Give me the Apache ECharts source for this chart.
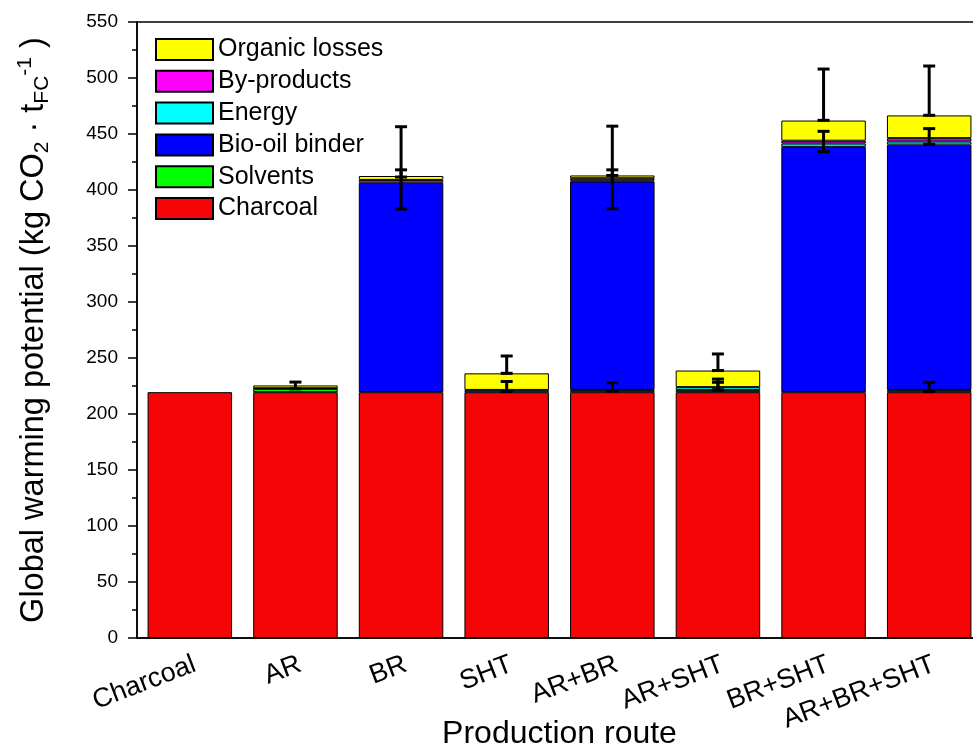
<!DOCTYPE html>
<html>
<head>
<meta charset="utf-8">
<script src="https://cdn.jsdelivr.net/npm/echarts@6/dist/echarts.min.js"></script>
<style>html,body{margin:0;padding:0;background:#fff;}#c{width:973px;height:747px;}</style>
</head>
<body>
<div id="c"></div>
<script>
var categories = ['Charcoal', 'AR', 'BR', 'SHT', 'AR+BR', 'AR+SHT', 'BR+SHT', 'AR+BR+SHT'];
var charcoal   = [219.5, 219.5, 219.5, 219.5, 219.5, 219.5, 219.5, 219.5];
var solvents   = [0, 3, 0, 0, 2, 2, 0, 2];
var bioOil     = [0, 0, 187, 0, 186, 0, 219, 219];
var energy     = [0, 0.5, 0, 2, 1, 2.5, 3, 2.8];
var byproducts = [0, 0, 2.5, 0, 2, 0, 2.5, 3];
var organic    = [0, 2.5, 3.5, 14.8, 2.5, 14.8, 18, 20.3];

// error bars: category, low, high
var errCategory = ['AR', 'BR', 'BR', 'SHT', 'SHT', 'AR+BR', 'AR+BR', 'AR+BR', 'AR+SHT', 'AR+SHT', 'AR+SHT', 'BR+SHT', 'BR+SHT', 'AR+BR+SHT', 'AR+BR+SHT', 'AR+BR+SHT'];
var errLow  = [222.5, 383, 411.6, 236.3, 220, 383.3, 413, 220.5, 238.8, 221.5, 221.5, 462.2, 434.2, 466.7, 440.8, 220];
var errHigh = [228.5, 456.5, 418, 251.8, 229, 457, 418, 228, 253.6, 231.2, 228.3, 508, 452.4, 510.7, 454.8, 228.3];

var yTicks = [0, 50, 100, 150, 200, 250, 300, 350, 400, 450, 500, 550];

var FONT = 'Liberation Sans, Arial, sans-serif';
function nz(a){ return a.map(function(v){ return v === 0 ? null : v; }); }

var layers = [
  {name:'Charcoal', data: charcoal, color:'#f50505'},
  {name:'Solvents', data: solvents, color:'#00ff00'},
  {name:'Bio-oil binder', data: bioOil, color:'#0000ff'},
  {name:'Energy', data: energy, color:'#00ffff'},
  {name:'By-products', data: byproducts, color:'#ff00ff'},
  {name:'Organic losses', data: organic, color:'#ffff00'}
];

var series = layers.map(function(l){
  return {
    name: l.name, type: 'bar', stack: 'total', data: nz(l.data),
    barCategoryGap: '20%',
    itemStyle: {color: l.color, borderColor: '#000', borderWidth: 1},
    emphasis: {disabled: true}
  };
});

var errData = errCategory.map(function(c, i){ return [categories.indexOf(c), errLow[i], errHigh[i]]; });
series.push({
  type: 'custom', name: 'err', data: errData, z: 10,
  renderItem: function(params, api){
    var x = api.value(0);
    var lo = api.coord([x, api.value(1)]);
    var hi = api.coord([x, api.value(2)]);
    var hw = 6;
    var st = {stroke: '#000', lineWidth: 3};
    return {type: 'group', children: [
      {type: 'line', shape: {x1: hi[0], y1: hi[1], x2: lo[0], y2: lo[1]}, style: st},
      {type: 'line', shape: {x1: hi[0]-hw, y1: hi[1], x2: hi[0]+hw, y2: hi[1]}, style: st},
      {type: 'line', shape: {x1: lo[0]-hw, y1: lo[1], x2: lo[0]+hw, y2: lo[1]}, style: st}
    ]};
  }
});

var chart = echarts.init(document.getElementById('c'));
chart.setOption({
  animation: false,
  backgroundColor: '#fff',
  grid: {left: 137, top: 22, width: 845, height: 616, show: true, borderColor: '#000', borderWidth: 1.5,
         backgroundColor: 'transparent', containLabel: false, outerBoundsMode: 'none'},
  legend: {
    orient: 'vertical', left: 150, top: 32, icon: 'rect',
    data: ['Organic losses', 'By-products', 'Energy', 'Bio-oil binder', 'Solvents', 'Charcoal'],
    itemWidth: 57, itemHeight: 21, itemGap: 6.8,
    textStyle: {fontFamily: FONT, fontSize: 25, color: '#000'},
    selectedMode: false
  },
  xAxis: {
    type: 'category', data: categories,
    axisLine: {lineStyle: {color: '#000', width: 1.5}},
    axisTick: {alignWithLabel: true, length: 9, inside: false, lineStyle: {color: '#000', width: 1.5}},
    axisLabel: {rotate: 21, fontFamily: FONT, fontSize: 27, color: '#000', margin: 13, verticalAlign: 'top'},
    name: 'Production route', nameLocation: 'middle', nameGap: 80, nameMoveOverlap: false,
    nameTextStyle: {fontFamily: FONT, fontSize: 32, color: '#000'}
  },
  yAxis: {
    type: 'value', min: 0, max: 550, interval: 50,
    splitLine: {show: false},
    axisLine: {show: true, lineStyle: {color: '#000', width: 1.5}},
    axisTick: {show: true, length: 9, lineStyle: {color: '#000', width: 1.5}},
    minorTick: {show: true, splitNumber: 2, length: 5, lineStyle: {color: '#000', width: 1.5}},
    axisLabel: {fontFamily: FONT, fontSize: 19, color: '#000', margin: 19,
      formatter: function(v){ return yTicks.indexOf(v) >= 0 ? String(v) : ''; }},
    name: '{n|Global warming potential (kg CO}{sub|2}{n| · t}{sub|FC}{sup|-1}{n| )}',
    nameLocation: 'middle', nameGap: 84, nameMoveOverlap: false,
    nameTextStyle: {
      fontFamily: FONT, color: '#000',
      rich: {
        n: {fontFamily: FONT, fontSize: 32.5, lineHeight: 38, color: '#000'},
        sub: {fontFamily: FONT, fontSize: 21, lineHeight: 21, verticalAlign: 'bottom', color: '#000'},
        sup: {fontFamily: FONT, fontSize: 21, lineHeight: 21, verticalAlign: 'top', color: '#000'}
      }
    }
  },
  series: series
});
</script>
</body>
</html>
